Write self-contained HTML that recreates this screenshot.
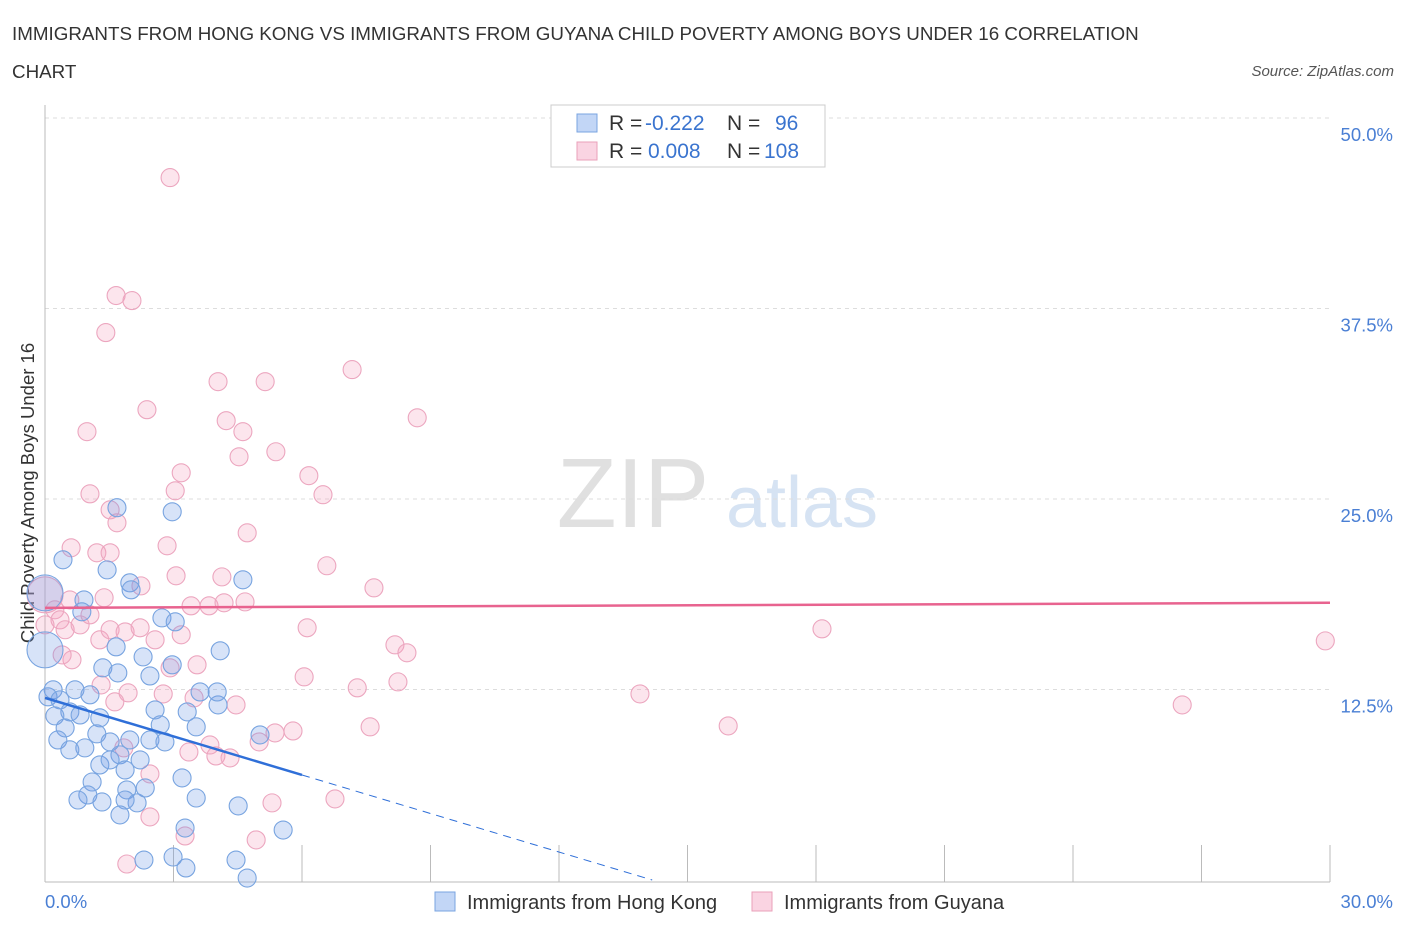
<!DOCTYPE html>
<html><head><meta charset="utf-8"><style>
body{margin:0;background:#fff;font-family:"Liberation Sans",sans-serif;}
svg text{font-family:"Liberation Sans",sans-serif;}
</style></head><body>
<svg id="chart" width="1406" height="930" viewBox="0 0 1406 930">
<text x="12" y="40" font-size="18.8" fill="#333">IMMIGRANTS FROM HONG KONG VS IMMIGRANTS FROM GUYANA CHILD POVERTY AMONG BOYS UNDER 16 CORRELATION</text>
<text x="12" y="78" font-size="18.8" fill="#333">CHART</text>
<text x="1394" y="76" font-size="15" fill="#555" font-style="italic" text-anchor="end">Source: ZipAtlas.com</text>
<text transform="translate(34,493) rotate(-90)" font-size="18.5" fill="#333" text-anchor="middle">Child Poverty Among Boys Under 16</text>
<g>
<text x="633" y="527" font-size="98" fill="#e0e0e0" font-family="Liberation Serif" text-anchor="middle">ZIP</text>
<text x="802" y="527" font-size="72" fill="#d6e3f3" text-anchor="middle">atlas</text>
</g>
<g id="grid"></g><g id="axes"></g><g id="pts"></g><g id="lines"></g>
<g>
<rect x="551" y="105" width="274" height="62" fill="#fff" stroke="#ccc"/>
<rect x="577" y="114" width="20" height="18" fill="rgba(120,165,235,0.45)" stroke="#7aa4e0"/>
<rect x="577" y="142" width="20" height="18" fill="rgba(245,160,190,0.45)" stroke="#eaa0ba"/>
<text x="609" y="130" font-size="21" fill="#333">R = <tspan x="645" fill="#3a74cf">-0.222</tspan><tspan x="727">N = </tspan><tspan x="775" fill="#3a74cf">96</tspan></text>
<text x="609" y="158" font-size="21" fill="#333">R = <tspan x="648" fill="#3a74cf">0.008</tspan><tspan x="727">N = </tspan><tspan x="764" fill="#3a74cf">108</tspan></text>
</g>
<g>
<rect x="435" y="892" width="20" height="19" fill="rgba(120,165,235,0.45)" stroke="#7aa4e0"/>
<text x="467" y="909" font-size="20" fill="#333">Immigrants from Hong Kong</text>
<rect x="752" y="892" width="20" height="19" fill="rgba(245,160,190,0.45)" stroke="#eaa0ba"/>
<text x="784" y="909" font-size="20" fill="#333">Immigrants from Guyana</text>
</g>
</svg>
<script>
const yTicks=[12.5,25,37.5,50];
const yTickLabels=["12.5%","25.0%","37.5%","50.0%"];
const xTickCount=10;
const xLabels=["0.0%","30.0%"];
const blueX=[2.97,1.68,0.42,1.45,1.98,2.01,4.62,0.91,0.86,2.73,3.04,4.09,1.66,2.29,1.35,1.70,2.45,2.97,0.19,0.07,0.35,0.70,1.05,0.58,1.28,0.23,0.82,0.47,1.21,0.30,0.93,0.58,1.52,1.98,2.45,2.80,1.75,2.22,1.28,1.87,3.62,4.04,3.32,2.57,4.02,3.53,5.02,3.20,1.10,1.00,1.91,2.34,0.77,1.33,2.15,1.87,1.75,3.53,4.51,3.27,5.56,2.31,2.99,3.29,4.46,4.72,1.52,2.69];
const blueY=[24.16,24.43,21.01,20.35,19.50,19.04,19.70,18.38,17.60,17.20,16.94,15.04,15.30,14.64,13.92,13.59,13.39,14.12,12.48,12.02,11.82,12.48,12.15,11.03,10.64,10.77,10.83,9.98,9.59,9.19,8.67,8.54,9.06,9.19,9.19,9.06,8.21,7.88,7.55,7.22,12.34,11.49,11.03,11.16,12.34,10.05,9.52,6.70,6.43,5.58,5.91,6.04,5.25,5.12,5.06,5.25,4.27,5.38,4.86,3.41,3.28,1.31,1.51,0.79,1.31,0.13,7.88,10.18];
const blueBigX=[0,0];
const blueBigY=[15.10,18.84];
const pinkX=[2.92,1.66,2.03,1.42,4.04,5.14,7.17,2.38,4.23,8.69,4.62,0.98,4.53,5.39,3.18,6.16,3.04,1.05,6.49,1.68,1.52,4.72,2.85,0.61,1.21,1.52,3.06,4.13,6.58,2.24,7.68,1.38,4.67,3.41,3.83,4.18,3.18,6.12,8.17,8.45,18.14,29.89,2.92,3.55,6.05,7.29,8.24,13.89,26.55,15.95,7.59,4.46,1.31,1.94,2.76,3.48,5.00,5.37,5.79,3.99,3.36,1.84,2.45,5.30,6.77,2.45,1.91,3.27,4.93,0.23,0.35,0.47,0.58,0.82,1.05,1.28,1.52,1.87,2.22,2.57,0.63,0.40,1.63,3.85,4.32,0.0];
const pinkY=[46.09,38.35,38.02,35.92,32.70,32.70,33.49,30.86,30.14,30.33,29.42,29.42,27.77,28.10,26.72,26.53,25.54,25.34,25.28,23.44,24.29,22.78,21.93,21.80,21.47,21.47,19.96,19.89,20.62,19.30,19.17,18.52,18.25,17.99,17.99,18.19,16.09,16.55,15.43,14.91,16.48,15.69,13.92,14.12,13.33,12.61,13.00,12.21,11.49,10.11,10.05,11.49,12.80,12.28,12.21,11.95,9.06,9.65,9.78,8.14,8.40,8.67,6.96,5.06,5.32,4.14,1.05,2.89,2.63,17.73,17.07,16.42,18.38,16.74,17.40,15.76,16.42,16.28,16.55,15.76,14.45,14.77,11.69,8.86,8.01,16.74];
const pinkBigX=[0];
const pinkBigY=[18.71];
const blueFit=[11.95,-0.843]; // intercept, slope
const blueSolidEnd=6;
const pinkFit=[17.86,0.011];

const NS="http://www.w3.org/2000/svg";
const X0=45,X1=1330,Y0=880,Y50=118;
const sx=v=>X0+(X1-X0)*v/30;
const sy=v=>Y0-(Y0-Y50)*v/50;
function mk(tag,attrs,parent){const e=document.createElementNS(NS,tag);for(const k in attrs)e.setAttribute(k,attrs[k]);document.getElementById(parent).appendChild(e);return e;}
yTicks.forEach((t,i)=>{
 const g=mk('line',{x1:X0,x2:X1,y1:sy(t),y2:sy(t),stroke:'#ddd','stroke-dasharray':'4,4'},'grid');
 
 
 const l=mk('text',{x:1393,y:sy(t)+23,'font-size':18.5,fill:'#4a7fd4','text-anchor':'end'},'axes');
 l.textContent=yTickLabels[i];
 
 
});
const ax=mk('line',{x1:X0,x2:X0,y1:105,y2:882,stroke:'#bbb'},'axes');


const bx=mk('line',{x1:X0,x2:X1,y1:882,y2:882,stroke:'#bbb'},'axes');


for(let i=0;i<=xTickCount;i++){
 const t=mk('line',{x1:sx(i*3),x2:sx(i*3),y1:845,y2:882,stroke:'#bbb'},'axes');
 
 
}
const xl0=mk('text',{x:45,y:908,'font-size':18.5,fill:'#4a7fd4'},'axes');xl0.textContent=xLabels[0];


const xl1=mk('text',{x:1393,y:908,'font-size':18.5,fill:'#4a7fd4','text-anchor':'end'},'axes');xl1.textContent=xLabels[1];


function dots(xs,ys,r,fill,stroke,name){xs.forEach((x,i)=>{
 const c=mk('circle',{cx:sx(x),cy:sy(ys[i]),r:r,fill:fill,stroke:stroke,'stroke-width':1.1},'pts');
 
 
});}
dots(pinkX,pinkY,9,'rgba(245,160,190,0.28)','#eca6bf','guyana-point');
dots(pinkBigX,pinkBigY,18,'rgba(245,160,190,0.28)','#eca6bf','guyana-point-large');
dots(blueX,blueY,9,'rgba(110,155,230,0.28)','#78a4e0','hongkong-point');
dots(blueBigX,blueBigY,18,'rgba(110,155,230,0.28)','#78a4e0','hongkong-point-large');
const bf=x=>blueFit[0]+blueFit[1]*x;
const bzero=-blueFit[0]/blueFit[1];
const l1=mk('line',{x1:sx(0),y1:sy(bf(0)),x2:sx(blueSolidEnd),y2:sy(bf(blueSolidEnd)),stroke:'#2f6fd8','stroke-width':2.5},'lines');


const l2=mk('line',{x1:sx(blueSolidEnd),y1:sy(bf(blueSolidEnd)),x2:sx(bzero),y2:sy(0),stroke:'#2f6fd8','stroke-width':1,'stroke-dasharray':'8,6'},'lines');


const pf=x=>pinkFit[0]+pinkFit[1]*x;
const l3=mk('line',{x1:sx(0),y1:sy(pf(0)),x2:sx(30),y2:sy(pf(30)),stroke:'#e8638f','stroke-width':2.5},'lines');


</script>
</body></html>
